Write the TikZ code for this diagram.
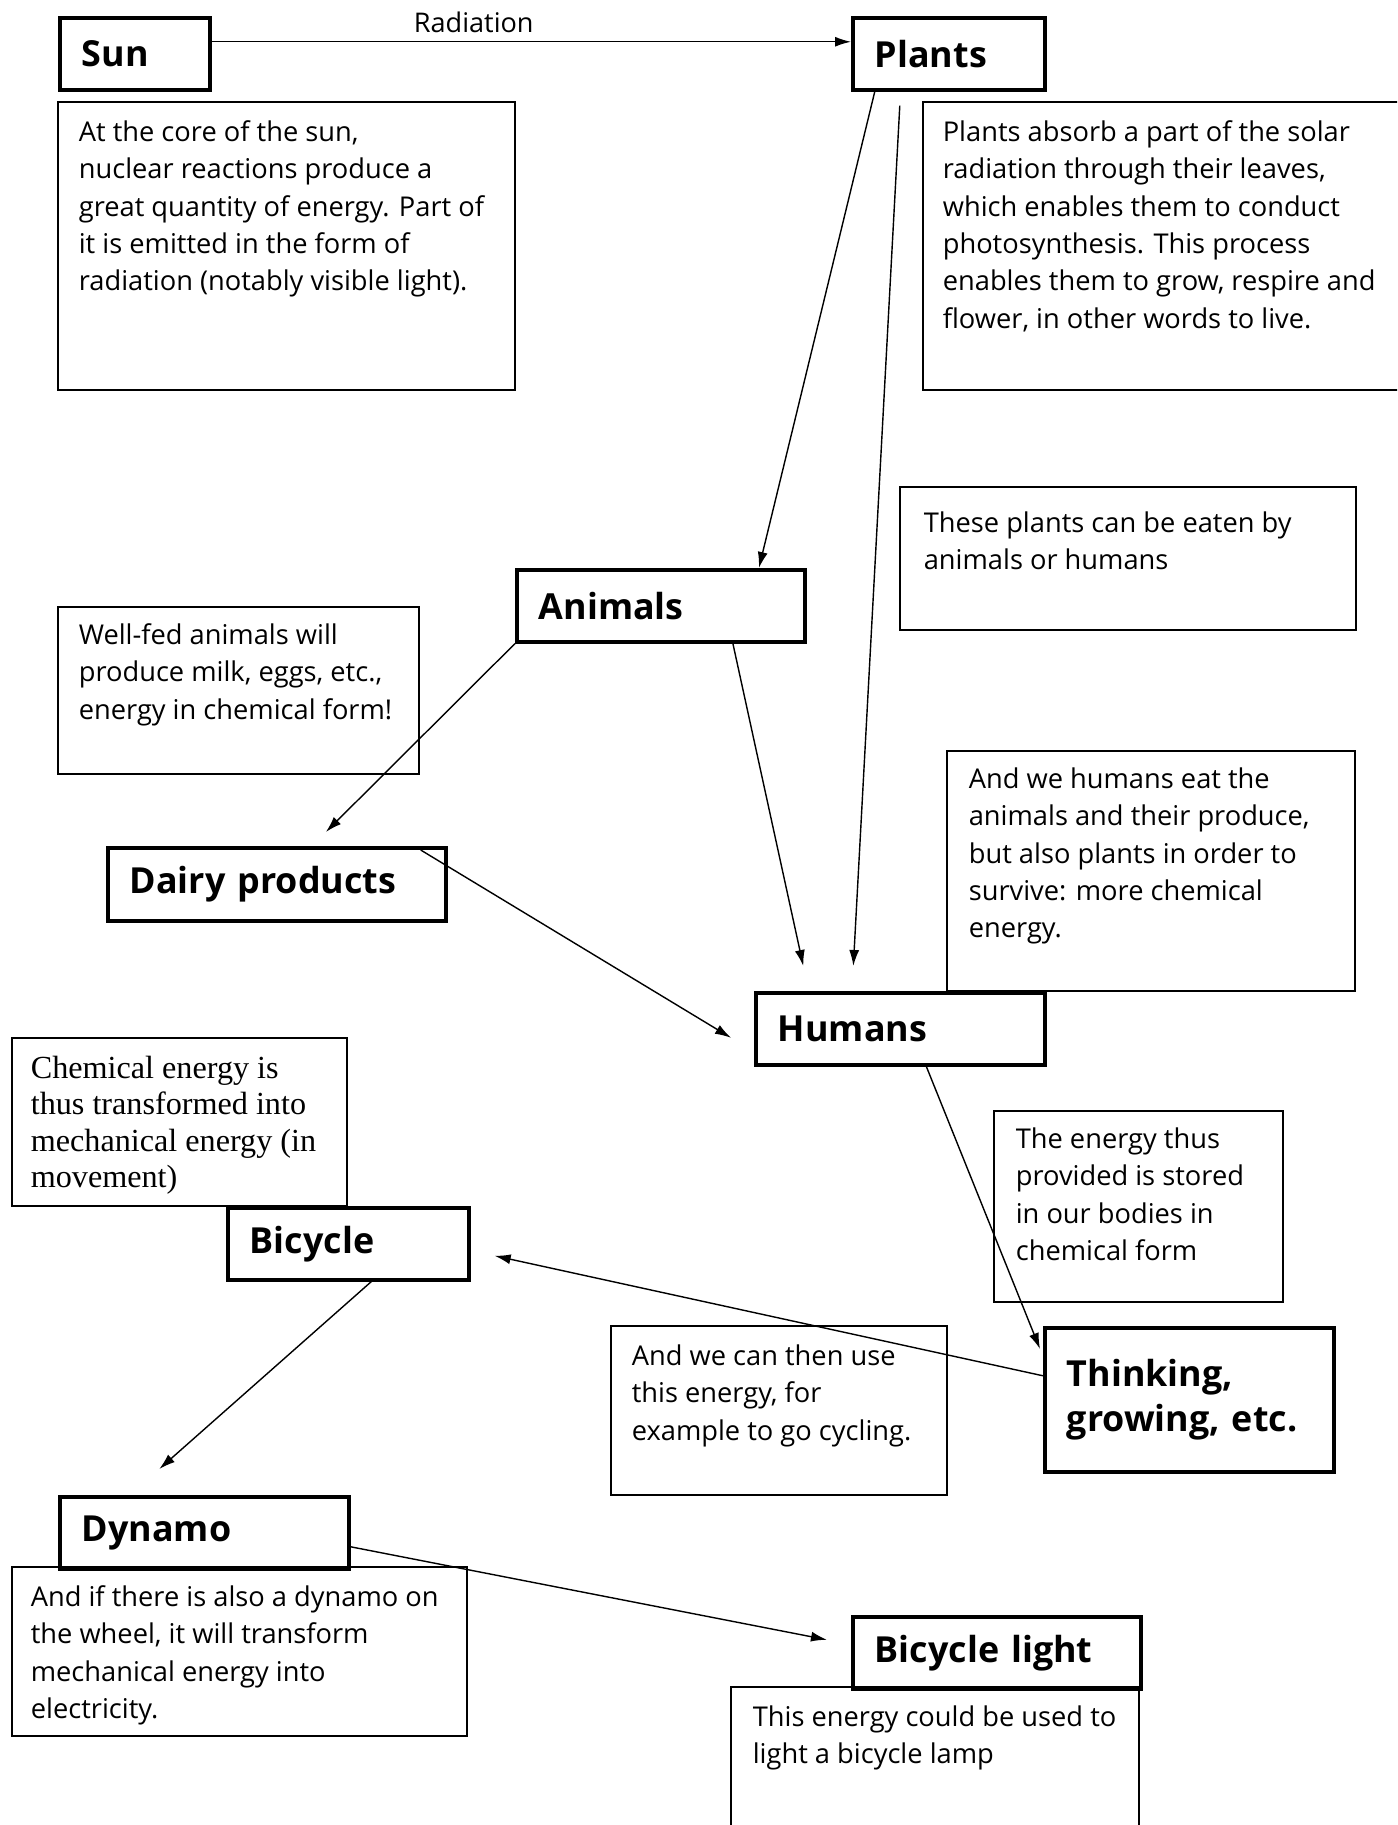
\documentclass[tikz,border=0pt]{standalone}
\usepackage{fontspec}
\setmainfont{Open Sans}
\newfontfamily\timesfont{Liberation Serif}
\usetikzlibrary{calc,fit,arrows.meta}

\begin{document}
\begin{tikzpicture}[x=0.01cm,y=-0.01cm,
	title/.style={draw,line width=1pt,anchor=north west,inner xsep=0.22cm,inner ysep=0pt,align=left,font=\fontsize{10.2}{13}\selectfont\bfseries},
	note/.style={draw,line width=0.5pt,inner sep=0pt},
	notetext/.style={anchor=north west,inner sep=0pt,align=left,font=\fontsize{7.75}{10.6}\selectfont},
	flow/.style={-{Latex[length=0.16cm,width=0.1cm]},line width=0.4pt}]
	%\draw[help lines] (0,0) grid[step=100] (1397,1825);
	\clip (0,0) rectangle (1397,1825);

	% title boxes
	\node[title,text width=1.06cm,minimum height=0.72cm] (sun) at (58,16) {Sun};
	\node[title,text width=1.48cm,minimum height=0.72cm] (plants) at (851,16) {Plants};
	\node[title,text width=2.44cm,minimum height=0.72cm] (animals) at (515,568) {Animals};
	\node[title,text width=2.94cm,minimum height=0.73cm] (dairy) at (106,846) {Dairy products};
	\node[title,text width=2.45cm,minimum height=0.72cm] (humans) at (754,991) {Humans};
	\node[title,text width=1.97cm,minimum height=0.72cm] (bicycle) at (226,1206) {Bicycle};
	\node[title,text width=2.45cm,minimum height=1.44cm] (thinking) at (1043,1326) {Thinking,\\growing, etc.};
	\node[title,text width=2.45cm,minimum height=0.72cm] (dynamo) at (58,1495) {Dynamo};
	\node[title,text width=2.44cm,minimum height=0.72cm] (light) at (851,1615) {Bicycle light};

	% note boxes
	\node[note,fit={(58,102) (515,390)}] (sunbox) {};
	\node[note,fit={(923,102) (1410,390)}] (plantsbox) {};
	\node[note,fit={(900,487) (1356,630)}] (eatenbox) {};
	\node[note,fit={(58,607) (419,774)}] (milkbox) {};
	\node[note,fit={(947,751) (1355,991)}] (eatbox) {};
	\node[note,fit={(12,1038) (347,1206)}] (mechbox) {};
	\node[note,fit={(994,1111) (1283,1302)}] (storebox) {};
	\node[note,fit={(611,1326) (947,1495)}] (cyclebox) {};
	\node[note,fit={(12,1567) (467,1736)}] (wheelbox) {};
	\node[note,fit={(731,1687) (1139,1840)}] (lampbox) {};

	\node[notetext] (suntext) at ($(sunbox.north west)+(21,19)$) {At the core of the sun,\\nuclear reactions produce a\\great quantity of energy. Part of\\it is emitted in the form of\\radiation (notably visible light).};
	\node[notetext] (plantstext) at ($(plantsbox.north west)+(20,19)$) {Plants absorb a part of the solar\\radiation through their leaves,\\which enables them to conduct\\photosynthesis. This process\\enables them to grow, respire and\\flower, in other words to live.};
	\node[notetext] (eatentext) at ($(eatenbox.north west)+(24,25)$) {These plants can be eaten by\\animals or humans};
	\node[notetext] (milktext) at ($(milkbox.north west)+(21,17)$) {Well-fed animals will\\produce milk, eggs, etc.,\\energy in chemical form!};
	\node[notetext] (eattext) at ($(eatbox.north west)+(22,17)$) {And we humans eat the\\animals and their produce,\\but also plants in order to\\survive: more chemical\\energy.};
	\node[notetext,font=\timesfont\fontsize{9.15}{10.4}\selectfont] (mechtext) at ($(mechbox.north west)+(19,18)$) {Chemical energy is\\thus transformed into\\mechanical energy (in\\movement)};
	\node[notetext] (storetext) at ($(storebox.north west)+(22,17)$) {The energy thus\\provided is stored\\in our bodies in\\chemical form};
	\node[notetext] (cycletext) at ($(cyclebox.north west)+(21,19)$) {And we can then use\\this energy, for\\example to go cycling.};
	\node[notetext] (wheeltext) at ($(wheelbox.north west)+(19,19)$) {And if there is also a dynamo on\\the wheel, it will transform\\mechanical energy into\\electricity.};
	\node[notetext] (lamptext) at ($(lampbox.north west)+(22,19)$) {This energy could be used to\\light a bicycle lamp};

	% arrows
	\draw[flow] ([yshift=0.12cm]sun.east) -- node[pos=0.41,yshift=0.19cm,font=\fontsize{7.7}{9}\selectfont] (radlabel) {Radiation} ([yshift=0.12cm]plants.west);
	\draw[flow] ([xshift=-0.74cm]plants.south) -- ([xshift=0.98cm]animals.north);
	\draw[flow] ([xshift=-0.49cm,yshift=-0.14cm]plants.south) -- ([xshift=-0.47cm,yshift=0.25cm]humans.north);
	\draw[flow] ([xshift=0.72cm]animals.south) -- ([xshift=-0.97cm,yshift=0.25cm]humans.north);
	\draw[flow] (animals.south west) -- ([xshift=0.49cm,yshift=0.14cm]dairy.north);
	\draw[flow] ([xshift=-0.27cm,yshift=-0.04cm]dairy.north east) -- ([xshift=-0.23cm,yshift=-0.09cm]humans.west);
	\draw[flow] ([xshift=0.26cm]humans.south) -- ([xshift=-0.03cm,yshift=-0.23cm]thinking.north west);
	\draw[flow] ([yshift=0.24cm]thinking.west) -- ([xshift=0.24cm,yshift=-0.12cm]bicycle.east);
	\draw[flow] ([xshift=0.23cm]bicycle.south) -- ([xshift=-0.45cm,yshift=0.26cm]dynamo.north);
	\draw[flow] ([yshift=-0.14cm]dynamo.east) -- ([xshift=-0.24cm,yshift=0.13cm]light.west);
\end{tikzpicture}
\end{document}
